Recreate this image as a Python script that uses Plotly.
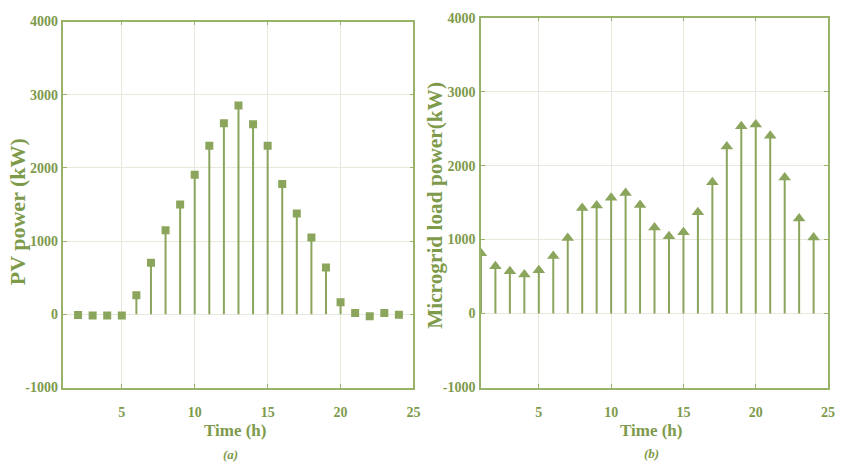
import plotly.graph_objects as go

# ---- data ----
pv_hours = list(range(2, 25))
pv_power = [-10, -15, -15, -15, 260, 706, 1147, 1500, 1906, 2303, 2611, 2853,
            2598, 2303, 1782, 1377, 1050, 640, 164, 18, -25, 18, -5]

load_hours = list(range(1, 25))
load_power = [814, 639, 573, 529, 586, 778, 1020, 1426, 1460, 1566, 1631, 1466,
              1164, 1046, 1098, 1369, 1776, 2257, 2533, 2555, 2402, 1841, 1286, 1030]

y_ticks = [-1000, 0, 1000, 2000, 3000, 4000]
y_tick_text = ["-1000", "0", "1000", "2000", "3000", "4000"]
x_ticks = [5, 10, 15, 20, 25]
x_tick_text = ["5", "10", "15", "20", "25"]

GREEN = "#8ba55c"
TEXT = "#7e9a4b"
AXIS = "#98b268"
GRID = "#e6eadc"
FONT = "Liberation Serif"
W, H = 842, 474


def stems(xs, ys):
    sx, sy = [], []
    for x, y in zip(xs, ys):
        sx += [x, x, None]
        sy += [0, y, None]
    return sx, sy


fig = go.Figure()

sx, sy = stems(pv_hours, pv_power)
fig.add_trace(go.Scatter(x=sx, y=sy, mode="lines", line=dict(color=GREEN, width=2),
                         xaxis="x", yaxis="y", showlegend=False, hoverinfo="skip"))
fig.add_trace(go.Scatter(x=pv_hours, y=pv_power, mode="markers",
                         marker=dict(symbol="square", size=8, color=GREEN),
                         xaxis="x", yaxis="y", showlegend=False))

sx, sy = stems(load_hours, load_power)
fig.add_trace(go.Scatter(x=sx, y=sy, mode="lines", line=dict(color=GREEN, width=2),
                         xaxis="x2", yaxis="y2", showlegend=False, hoverinfo="skip"))
fig.add_trace(go.Scatter(x=load_hours, y=load_power, mode="markers",
                         marker=dict(symbol="triangle-up", size=11, color=GREEN),
                         xaxis="x2", yaxis="y2", showlegend=False))

xcommon = dict(range=[1, 25], tickvals=x_ticks, ticktext=["<b>%s</b>" % t for t in x_tick_text],
               showline=True, linecolor=AXIS, linewidth=1.5, mirror="ticks",
               ticks="inside", ticklen=4, tickcolor=AXIS,
               showgrid=True, gridcolor=GRID, gridwidth=1, zeroline=False,
               tickfont=dict(family=FONT, size=14, color=TEXT),
               ticklabelstandoff=11)
ycommon = dict(range=[-1000, 4000], tickvals=y_ticks, ticktext=["<b>%s</b>" % t for t in y_tick_text],
               showline=True, linecolor=AXIS, linewidth=1.5, mirror="ticks",
               ticks="inside", ticklen=4, tickcolor=AXIS,
               showgrid=True, gridcolor=GRID, gridwidth=1, zeroline=False,
               tickfont=dict(family=FONT, size=14, color=TEXT),
               ticklabelstandoff=1)


def ann(text, px, py, size, angle=0, italic=False):
    t = "<b><i>%s</i></b>" % text if italic else "<b>%s</b>" % text
    return dict(text=t, x=px / W, y=1 - py / H, xref="paper", yref="paper",
                xanchor="center", yanchor="middle", textangle=angle,
                showarrow=False, font=dict(family=FONT, size=size, color=TEXT))


fig.update_layout(
    width=W, height=H,
    margin=dict(l=0, r=0, t=0, b=0),
    paper_bgcolor="white", plot_bgcolor="white",
    font=dict(family=FONT, color=TEXT),
    xaxis=dict(domain=[0.076, 0.4952], anchor="y", **xcommon),
    yaxis=dict(domain=[0.1709, 0.9684], anchor="x", **ycommon),
    xaxis2=dict(domain=[0.576, 0.9917], anchor="y2", **xcommon),
    yaxis2=dict(domain=[0.1709, 0.9768], anchor="x2", **ycommon),
    annotations=[
        ann("Time (h)", 237, 437, 17),
        ann("Time (h)", 657, 437, 17),
        ann("PV power (kW)", 17, 211, 22, angle=-90),
        ann("Microgrid load power(kW)", 438, 205, 21.3, angle=-90),
        ann("(a)", 232, 462, 13, italic=True),
        ann("(b)", 657, 461, 13, italic=True),
    ],
)

fig.write_html("out.html")
